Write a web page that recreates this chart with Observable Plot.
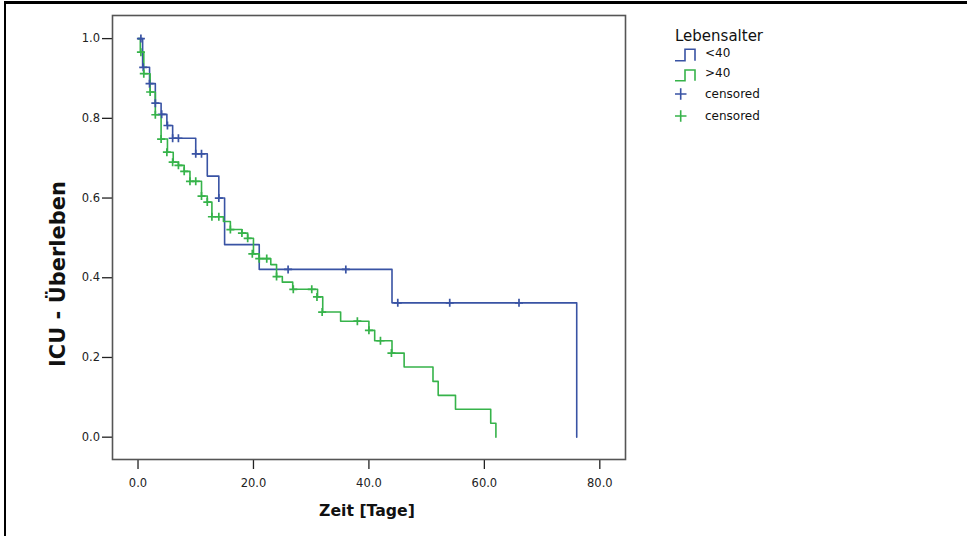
<!DOCTYPE html>
<html>
<head>
<meta charset="utf-8">
<script src="https://cdn.jsdelivr.net/npm/d3@7"></script>
<script src="https://cdn.jsdelivr.net/npm/@observablehq/plot@0.6"></script>
<style>
  html, body { margin: 0; padding: 0; background: #fff; }
  #wrap { position: relative; width: 967px; height: 536px; overflow: hidden; font-family: "DejaVu Sans", sans-serif; }
  #border { position: absolute; left: 4px; top: 1px; width: 970px; height: 540px; border-top: 3px solid #000; border-left: 2.5px solid #000; box-sizing: border-box; pointer-events: none; }
  .ytitle { position: absolute; left: 58px; top: 274px; transform: translate(-50%, -50%) rotate(-90deg); font-weight: bold; font-size: 21px; white-space: nowrap; color: #111; }
  .xtitle { position: absolute; left: 367px; top: 501px; transform: translateX(-50%); font-weight: bold; font-size: 15.7px; white-space: nowrap; color: #111; }
  #legend { position: absolute; left: 0; top: 0; }
</style>
</head>
<body>
<div id="wrap">
  <div id="chart"></div>
  <div class="ytitle">ICU - Überleben</div>
  <div class="xtitle">Zeit [Tage]</div>
  <svg id="legend" width="967" height="140"></svg>
  <div id="border"></div>
</div>
<script>
// ---- data ----
const groups = ["<40", ">40"];
const colors = ["#3953a4", "#36b34a"];
const legendTitle = "Lebensalter";
const censoredLabel = "censored";

// Group "<40": Kaplan-Meier steps
const blueTime = [0, 0.8, 2, 3, 4, 5, 6, 10, 12, 14, 15, 21, 44, 76];
const blueSurv = [1.0, 0.928, 0.887, 0.838, 0.810, 0.782, 0.750, 0.711, 0.655, 0.600, 0.483, 0.421, 0.337, 0.0];
// Group "<40": censored observations
const blueCensTime = [0.5, 0.9, 2, 3, 4.1, 5.1, 6, 7, 10, 11, 14, 26, 36, 45, 54, 66];
const blueCensSurv = [1.0, 0.928, 0.887, 0.838, 0.810, 0.782, 0.750, 0.750, 0.711, 0.711, 0.600, 0.421, 0.421, 0.337, 0.337, 0.337];

// Group ">40": Kaplan-Meier steps
const greenTime = [0, 0.4, 1, 2.1, 3, 4, 5.1, 6.1, 7, 8, 9, 11, 12, 12.8, 14.8, 16, 18, 19, 20, 21, 23, 24, 25, 26.8, 31.1, 32, 35.1, 40, 41, 44, 46.1, 51.1, 52, 55, 61.1, 62];
const greenSurv = [1.0, 0.966, 0.912, 0.866, 0.809, 0.748, 0.715, 0.690, 0.682, 0.667, 0.642, 0.605, 0.590, 0.553, 0.541, 0.521, 0.512, 0.499, 0.460, 0.448, 0.433, 0.403, 0.389, 0.371, 0.352, 0.314, 0.291, 0.268, 0.242, 0.211, 0.176, 0.140, 0.105, 0.070, 0.035, 0.0];
// Group ">40": censored observations
const greenCensTime = [0.5, 1, 2.1, 3, 4, 5, 6, 7, 8, 9, 10, 11, 12, 12.8, 14, 16, 18, 19, 19.8, 21, 22.3, 24, 26.9, 30.1, 31, 31.9, 38, 40, 42, 43.9];
const greenCensSurv = [0.966, 0.912, 0.866, 0.809, 0.748, 0.715, 0.690, 0.682, 0.667, 0.642, 0.642, 0.605, 0.590, 0.553, 0.553, 0.521, 0.512, 0.499, 0.460, 0.448, 0.448, 0.403, 0.371, 0.371, 0.352, 0.314, 0.291, 0.268, 0.242, 0.211];

const xTicks = [0, 20, 40, 60, 80];
const yTicks = [0, 0.2, 0.4, 0.6, 0.8, 1.0];

// ---- build tables ----
const rows = (ts, ss, g) => ts.map((t, i) => ({t, s: ss[i], g}));
const steps = [...rows(blueTime, blueSurv, groups[0]), ...rows(greenTime, greenSurv, groups[1])];
const cens = [...rows(blueCensTime, blueCensSurv, groups[0]), ...rows(greenCensTime, greenCensSurv, groups[1])];

const chart = Plot.plot({
  width: 967,
  height: 536,
  marginLeft: 112,
  marginRight: 342,
  marginTop: 15,
  marginBottom: 77,
  style: {fontFamily: "DejaVu Sans, sans-serif", fontSize: "11.5px", color: "#222", background: "transparent", overflow: "visible"},
  x: {domain: [-4.42, 84.45]},
  y: {domain: [-0.056, 1.058]},
  color: {domain: groups, range: colors},
  marks: [
    Plot.axisX({ticks: xTicks, tickFormat: d => d.toFixed(1), tickSize: 10, tickPadding: 9, label: null, strokeWidth: 1.3}),
    Plot.axisY({ticks: yTicks, tickFormat: d => d.toFixed(1), tickSize: 10, tickPadding: 2.5, label: null, strokeWidth: 1.3}),
    Plot.line(steps, {x: "t", y: "s", z: "g", stroke: "g", curve: "step-after", strokeWidth: 1.6}),
    Plot.dot(cens, {x: "t", y: "s", stroke: "g", symbol: "plus", r: 2.7, strokeWidth: 1.7}),
    Plot.frame({stroke: "#555", strokeWidth: 1.6})
  ]
});
document.getElementById("chart").appendChild(chart);

// ---- legend ----
const lg = d3.select("#legend");
lg.append("text").attr("x", 675).attr("y", 40.5).attr("font-size", 15).attr("fill", "#111")
  .attr("font-family", "DejaVu Sans, sans-serif").text(legendTitle);
const itemTop = [[49.3, 60.7], [70, 80.7]];
groups.forEach((g, i) => {
  const [top, bot] = itemTop[i];
  lg.append("path").attr("d", `M675,${bot}H685V${top}H695V${bot}`).attr("fill", "none")
    .attr("stroke", colors[i]).attr("stroke-width", 1.6);
  lg.append("text").attr("x", 705).attr("y", bot - 4).attr("font-size", 12).attr("fill", "#111")
    .attr("font-family", "DejaVu Sans, sans-serif").text(g);
});
const plusY = [94, 116];
groups.forEach((g, i) => {
  const cy = plusY[i];
  lg.append("path").attr("d", `M675,${cy}H686.5M680.7,${cy - 5.8}V${cy + 5.8}`).attr("fill", "none")
    .attr("stroke", colors[i]).attr("stroke-width", 1.6);
  lg.append("text").attr("x", 705).attr("y", cy + 4.3).attr("font-size", 12).attr("fill", "#111")
    .attr("font-family", "DejaVu Sans, sans-serif").text(censoredLabel);
});
</script>
</body>
</html>
